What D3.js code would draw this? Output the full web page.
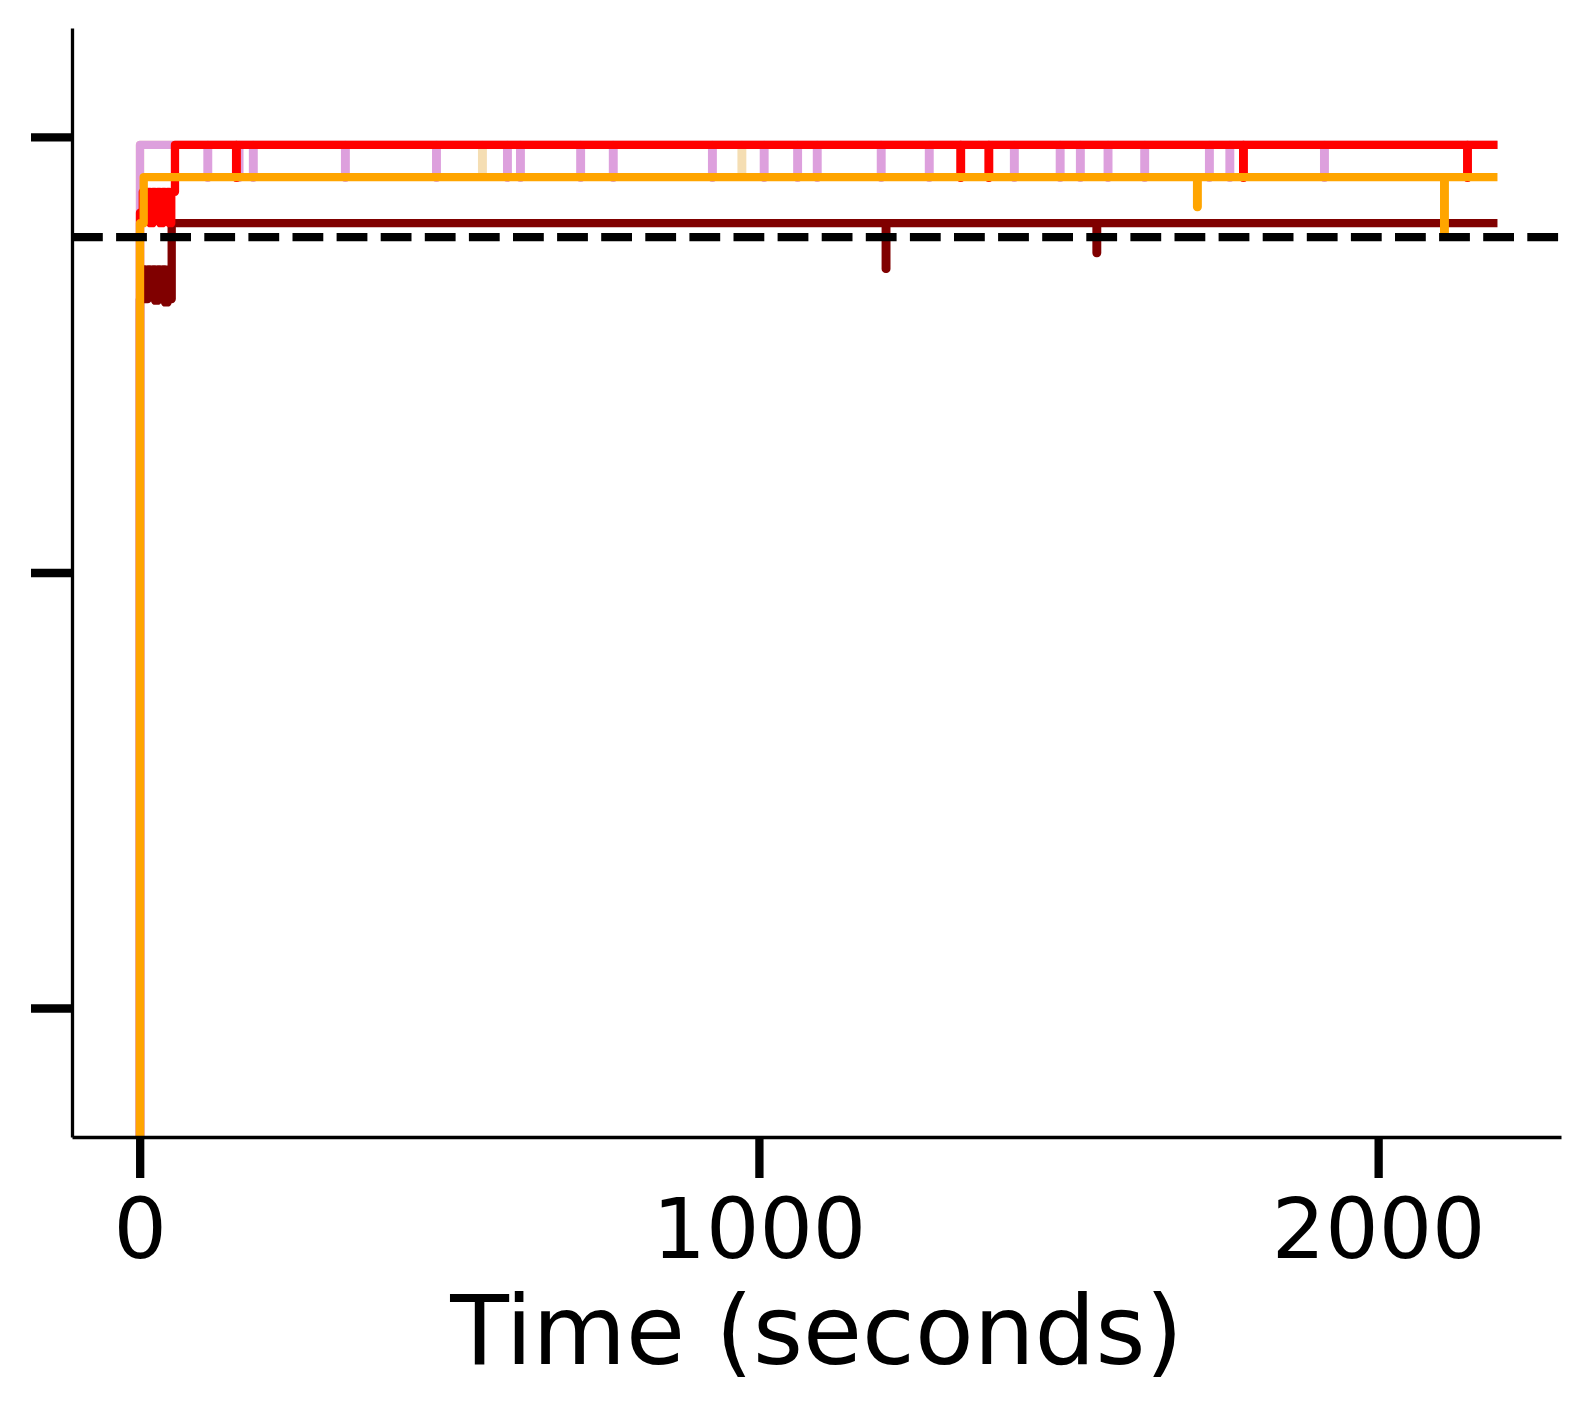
<!DOCTYPE html>
<html>
<head>
<meta charset="utf-8">
<script src="https://cdn.jsdelivr.net/npm/d3@7"></script>
<style>
  html, body { margin: 0; padding: 0; background: #fff; }
  svg { display: block; font-family: "DejaVu Sans", sans-serif; }
</style>
</head>
<body>
<svg id="chart" width="1589" height="1415"></svg>
<script>
// ---- data (time in seconds, value in arbitrary units) ----
const xTicks = [0, 1000, 2000];
const yTicks = [0, 0.5, 1];
const xLabel = "Time (seconds)";
const threshold = 0.885;

const wheat = [[0,-0.3],[0.5,0.991],[553,0.955],[554,0.991],[972,0.955],[973,0.991],[2186,0.991]];

const plum = [[0,-0.3],[0.5,0.991],
  [109.5,0.953],[110.5,0.991],[160,0.953],[161,0.991],[183,0.953],[184,0.991],
  [331.7,0.953],[332.7,0.991],[478.8,0.953],[479.8,0.991],[593.4,0.953],[594.4,0.991],
  [614.4,0.953],[615.4,0.991],[711.6,0.953],[712.6,0.991],[764.3,0.953],[765.3,0.991],
  [924.4,0.953],[925.4,0.991],[1008,0.953],[1009,0.991],[1062,0.953],[1063,0.991],
  [1093.7,0.953],[1094.7,0.991],[1197,0.953],[1198,0.991],[1274.6,0.953],[1275.6,0.991],
  [1412,0.953],[1413,0.991],[1486,0.953],[1487,0.991],[1518.6,0.953],[1519.6,0.991],
  [1563.3,0.953],[1564.3,0.991],[1622.5,0.953],[1623.5,0.991],[1727,0.953],[1728,0.991],
  [1760,0.953],[1761,0.991],[1912.8,0.953],[1913.8,0.991],[2186,0.991]];

const maroon = [[0,-0.3],[0.5,0.814],[5,0.848],[9,0.814],[13,0.848],[17,0.818],[21,0.848],
  [25,0.812],[29,0.848],[33,0.814],[37,0.848],[41,0.81],[45,0.848],[49,0.814],[51.7,0.901],
  [1204.8,0.8485],[1205.8,0.901],[1545.2,0.8668],[1546.2,0.901],[2186,0.901]];

const red = [[0,-0.3],[0.5,0.913],[5,0.937],[9,0.913],[13,0.937],[17,0.901],[21,0.937],
  [25,0.913],[29,0.937],[33,0.901],[37,0.937],[41,0.913],[45,0.937],[48,0.901],[51,0.937],
  [57,0.991],[155.7,0.953],[156.7,0.991],[1325.4,0.953],[1326.4,0.991],
  [1370.8,0.953],[1371.8,0.991],[1782,0.953],[1783,0.991],[2143.8,0.953],[2144.8,0.991],
  [2186,0.991]];

const orange = [[0,-0.3],[0.5,0.901],[6.5,0.954],[1707.6,0.9196],[1708.6,0.954],
  [2106.6,0.8863],[2107.6,0.954],[2186,0.954]];

const seriesList = [
  {data: wheat,  color: "#F5DEB3"},
  {data: plum,   color: "#DDA0DD"},
  {data: maroon, color: "#800000"},
  {data: red,    color: "#FF0000"},
  {data: orange, color: "#FFA500"}
];

// ---- layout ----
const svg = d3.select("#chart");
const L = 72, R = 1561, T = 28, B = 1137;
const lw = 8.3;

const xMin = 0, xMax = 2186, pad = (xMax - xMin) * 0.05;
const x = d3.scaleLinear().domain([xMin - pad, xMax + pad]).range([L, R]);
const y = d3.scaleLinear().domain([-0.1481, 1.1251]).range([B, T]);

svg.append("defs").append("clipPath").attr("id", "clip")
  .append("rect").attr("x", L).attr("y", T).attr("width", R - L).attr("height", B - T);

const plot = svg.append("g").attr("clip-path", "url(#clip)");

const line = d3.line().x(d => x(d[0])).y(d => y(d[1])).curve(d3.curveStepAfter);

seriesList.forEach(s => {
  plot.append("path")
    .attr("d", line(s.data))
    .attr("fill", "none")
    .attr("stroke", s.color)
    .attr("stroke-width", lw)
    .attr("stroke-linejoin", "round")
    .attr("stroke-linecap", "square");
});

// threshold dashed line
plot.append("line")
  .attr("x1", L).attr("x2", R)
  .attr("y1", y(threshold)).attr("y2", y(threshold))
  .attr("stroke", "#000").attr("stroke-width", lw)
  .attr("stroke-dasharray", "30.8,13.3");

// ---- axes ----
const xAxis = svg.append("g").attr("transform", `translate(0,${B})`)
  .call(d3.axisBottom(x).tickValues(xTicks).tickSize(41).tickSizeOuter(0).tickPadding(20).tickFormat(d3.format("d")));
const yAxis = svg.append("g").attr("transform", `translate(${L},0)`)
  .call(d3.axisLeft(y).tickValues(yTicks).tickSize(41).tickSizeOuter(0).tickFormat(""));

[xAxis, yAxis].forEach(g => {
  g.select(".domain").attr("stroke", "#000").attr("stroke-width", 3.3);
  g.selectAll(".tick line").attr("stroke", "#000").attr("stroke-width", 8.3);
});
xAxis.selectAll(".tick text")
  .attr("fill", "#000")
  .attr("font-family", "DejaVu Sans")
  .attr("font-size", 84);

svg.append("text")
  .attr("x", (L + R) / 2)
  .attr("y", 1364)
  .attr("text-anchor", "middle")
  .attr("font-family", "DejaVu Sans")
  .attr("font-size", 96)
  .attr("fill", "#000")
  .text(xLabel);
</script>
</body>
</html>
